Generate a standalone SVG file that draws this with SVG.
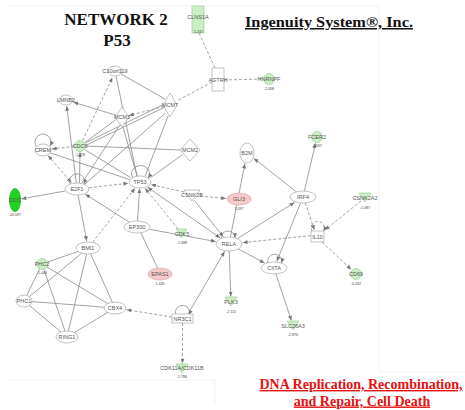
<svg xmlns="http://www.w3.org/2000/svg" width="465" height="410" viewBox="0 0 465 410">
<defs>
<style>
.e{stroke:#8a8a8a;stroke-width:0.8;fill:none}
.d{stroke-dasharray:3 2}
.n{fill:#fff;stroke:#a8a8a8;stroke-width:0.7}
.g{fill:#c9efc3;stroke:#a3cf9c;stroke-width:0.7}
.p{fill:#f5c9c9;stroke:#d9a3a3;stroke-width:0.7}
.l{font-family:"Liberation Sans",Arial,sans-serif;font-size:5.5px;fill:#555;text-anchor:middle;dominant-baseline:central}
.v{font-family:"Liberation Sans",Arial,sans-serif;font-size:3.6px;fill:#444;text-anchor:middle;dominant-baseline:central}
.t{font-family:"Liberation Serif","Times New Roman",serif;font-weight:bold;fill:#111}
.r{font-family:"Liberation Serif","Times New Roman",serif;font-weight:bold;fill:#e81010;font-size:14px;text-anchor:middle;text-decoration:underline}
</style>
<marker id="a" viewBox="0 0 6 5" refX="6" refY="2.5" markerWidth="5" markerHeight="4" markerUnits="userSpaceOnUse" orient="auto-start-reverse"><path d="M0,0L6,2.5L0,5z" fill="#777"/></marker>
</defs>
<rect width="465" height="410" fill="#fff"/>
<path d="M8,6H379V372H465M8,380H215V404" fill="none" stroke="#efefef" stroke-width="0.8"/>

<text class="t" x="116" y="25" font-size="17" text-anchor="middle">NETWORK 2</text>
<text class="t" x="117" y="45.5" font-size="17" text-anchor="middle">P53</text>
<text class="t" x="245" y="27" font-size="15" textLength="168" lengthAdjust="spacingAndGlyphs" text-decoration="underline">Ingenuity System®, Inc.</text>
<text class="r" x="361" y="389">DNA Replication, Recombination,</text>
<text class="r" x="362" y="405.5">and Repair, Cell Death</text>

<g id="edges">
<!-- dashed -->
<line class="e d" x1="199" y1="33" x2="215" y2="68"/>
<line class="e d" x1="224" y1="80" x2="263" y2="79"/>
<line class="e d" x1="212" y1="82" x2="177" y2="101"/>
<line class="e d" x1="164" y1="106.5" x2="129" y2="115.5" marker-end="url(#a)"/>
<line class="e d" x1="82.6" y1="140.6" x2="112.4" y2="77.6" marker-end="url(#a)"/>
<line class="e d" x1="74.5" y1="146.3" x2="51.9" y2="149" marker-end="url(#a)"/>
<line class="e d" x1="48" y1="155.5" x2="71.5" y2="182.7" marker-start="url(#a)" marker-end="url(#a)"/>
<line class="e d" x1="89" y1="187.7" x2="128.2" y2="183.3" marker-end="url(#a)"/>
<line class="e d" x1="92.4" y1="242.4" x2="135" y2="188.3" marker-end="url(#a)"/>
<line class="e d" x1="178" y1="229" x2="145.1" y2="188.2" marker-end="url(#a)"/>
<line class="e d" x1="184" y1="192" x2="151.1" y2="184.6" marker-end="url(#a)"/>
<line class="e d" x1="200" y1="196" x2="226" y2="198.5" marker-end="url(#a)"/>
<line class="e d" x1="311" y1="235.6" x2="242.8" y2="242.6" marker-end="url(#a)"/>
<line class="e d" x1="305.2" y1="202.9" x2="314.4" y2="230" marker-end="url(#a)"/>
<line class="e d" x1="361" y1="201" x2="325" y2="230" marker-end="url(#a)"/>
<line class="e d" x1="322" y1="242" x2="351.3" y2="269.5" marker-end="url(#a)"/>
<line class="e d" x1="172" y1="317" x2="126.6" y2="309.8" marker-end="url(#a)"/>
<line class="e d" x1="182.5" y1="323" x2="182.5" y2="363.5" marker-end="url(#a)"/>
<path class="e d" d="M312,231A6.5 6.5 0 1 1 323.5,231" marker-end="url(#a)"/>
<!-- solid -->
<line class="e" x1="121" y1="74" x2="165" y2="99"/>
<line class="e" x1="116" y1="76" x2="137" y2="176"/>
<line class="e" x1="116.2" y1="115.3" x2="73.4" y2="102.2" marker-end="url(#a)"/>
<line class="e" x1="76.3" y1="183" x2="66.7" y2="106" marker-end="url(#a)"/>
<line class="e" x1="85" y1="143" x2="163.5" y2="104.5"/>
<line class="e" x1="85.5" y1="145.5" x2="164" y2="107.5"/>
<line class="e" x1="85" y1="142.5" x2="116" y2="119.5"/>
<line class="e" x1="85.5" y1="146" x2="180" y2="150"/>
<line class="e" x1="50.5" y1="153" x2="129.5" y2="179.5"/>
<line class="e" x1="84.5" y1="149.5" x2="130.5" y2="177.5"/>
<line class="e" x1="79.5" y1="183" x2="80" y2="152.5" marker-end="url(#a)"/>
<line class="e" x1="82" y1="183" x2="119.5" y2="125.5"/>
<line class="e" x1="85" y1="184" x2="165.5" y2="113"/>
<line class="e" x1="123" y1="127" x2="137" y2="176"/>
<line class="e" x1="168" y1="116" x2="145" y2="176.5"/>
<line class="e" x1="182" y1="155" x2="150" y2="178"/>
<line class="e" x1="65.2" y1="191" x2="21.5" y2="198.9" marker-end="url(#a)"/>
<line class="e" x1="78.1" y1="195" x2="86.7" y2="241" marker-end="url(#a)"/>
<line class="e" x1="129.3" y1="222.2" x2="85.3" y2="194.2" marker-end="url(#a)"/>
<line class="e" x1="137.5" y1="221" x2="139.6" y2="188.5" marker-end="url(#a)"/>
<line class="e" x1="147.6" y1="187.3" x2="220.2" y2="237.9" marker-start="url(#a)" marker-end="url(#a)"/>
<line class="e" x1="194" y1="200" x2="223.3" y2="236.8" marker-end="url(#a)"/>
<line class="e" x1="149.5" y1="229.3" x2="215.7" y2="241.5" marker-end="url(#a)"/>
<line class="e" x1="141" y1="233" x2="157.5" y2="268"/>
<line class="e" x1="230.4" y1="237.1" x2="244.9" y2="163.6" marker-end="url(#a)"/>
<line class="e" x1="296.4" y1="191.8" x2="253.9" y2="158.4" marker-end="url(#a)"/>
<line class="e" x1="304.4" y1="191" x2="315.5" y2="143.3" marker-end="url(#a)"/>
<line class="e" x1="237.4" y1="238.7" x2="294.5" y2="202.4" marker-end="url(#a)"/>
<line class="e" x1="300.6" y1="202.9" x2="276.8" y2="261.2" marker-end="url(#a)"/>
<line class="e" x1="238.3" y1="248.9" x2="264.6" y2="263" marker-end="url(#a)"/>
<line class="e" x1="275.9" y1="274" x2="291.4" y2="320.5" marker-end="url(#a)"/>
<line class="e" x1="229.2" y1="251" x2="230.8" y2="296.5" marker-end="url(#a)"/>
<line class="e" x1="188" y1="314" x2="224.6" y2="251.5" marker-end="url(#a)"/>
<!-- polycomb clique -->
<line class="e" x1="88" y1="248" x2="42" y2="264"/>
<line class="e" x1="88" y1="248" x2="24" y2="301"/>
<line class="e" x1="88" y1="248" x2="115" y2="308"/>
<line class="e" x1="88" y1="248" x2="67" y2="337"/>
<line class="e" x1="42" y1="264" x2="24" y2="301"/>
<line class="e" x1="42" y1="264" x2="115" y2="308"/>
<line class="e" x1="42" y1="264" x2="67" y2="337"/>
<line class="e" x1="24" y1="301" x2="115" y2="308"/>
<line class="e" x1="24" y1="301" x2="67" y2="337"/>
<line class="e" x1="115" y1="308" x2="67" y2="337"/>
<!-- self loops -->
<path class="e" d="M133,178A9 8 0 1 1 148,178" marker-end="url(#a)"/>
<path class="e" d="M70,184A7.5 7.5 0 1 1 84,184" marker-end="url(#a)"/>
<path class="e" d="M221,238A7 7 0 1 1 235,238" marker-end="url(#a)"/>
<path class="e" d="M268,263A7 7 0 1 1 281.5,263" marker-end="url(#a)"/>
<path class="e" d="M36,146A8 8 0 1 1 50,146" marker-end="url(#a)"/>
<path class="e" d="M176,315A7 7 0 1 1 189,315" marker-end="url(#a)"/>
</g>

<g id="CLNS1A"><rect class="g" x="192" y="6" width="12" height="27"/><text class="l" x="198" y="16.5">CLNS1A</text><text class="v" x="198" y="31.5">-1.247</text></g>
<g id="AGTRH"><rect class="n" x="212" y="68" width="12" height="23"/><text class="l" x="218" y="80">AGTRH</text></g>
<g id="HNRNPF"><circle class="g" cx="269" cy="79" r="5.5"/><text class="l" x="269" y="79">HNRNPF</text><text class="v" x="269" y="89">-2.008</text></g>
<g id="C10orf119"><ellipse class="n" cx="115" cy="71" rx="7" ry="5"/><text class="l" x="115" y="71">C10orf119</text></g>
<g id="LMNB2"><ellipse class="n" cx="66" cy="100" rx="7" ry="5"/><text class="l" x="66" y="100">LMNB2</text></g>
<g id="MCM7"><polygon class="n" points="170,93 177,105 170,117 163,105"/><text class="l" x="170" y="105">MCM7</text></g>
<g id="MCM3"><polygon class="n" points="122,107 129,117 122,127 115,117"/><text class="l" x="122" y="117">MCM3</text></g>
<g id="CDC6"><circle class="g" cx="80" cy="146" r="5.5"/><text class="l" x="80" y="146">CDC6</text><text class="v" x="80" y="154.5">-1.478</text></g>
<g id="CREM"><ellipse class="n" cx="43" cy="150" rx="8" ry="6"/><text class="l" x="43" y="150">CREM</text></g>
<g id="MCM2"><polygon class="n" points="190,139 200,150 190,161 180,150"/><text class="l" x="190" y="150">MCM2</text></g>
<g id="E2F1"><ellipse class="n" cx="77" cy="189" rx="12" ry="6"/><text class="l" x="77" y="189">E2F1</text></g>
<g id="TP53"><ellipse class="n" cx="140" cy="182" rx="11" ry="6"/><text class="l" x="140" y="182">TP53</text></g>
<g id="DCC"><ellipse cx="15" cy="200" rx="5.5" ry="11.5" fill="#1fd41f" stroke="#19a819" stroke-width="0.7"/><text class="l" x="15" y="200">DCC</text><text class="v" x="15" y="215">-10.097</text></g>
<g id="CSNK2B"><polygon class="n" points="184,190 200,190 192,201"/><text class="l" x="192" y="195">CSNK2B</text></g>
<g id="GLI3"><ellipse class="p" cx="239" cy="199" rx="12" ry="6"/><text class="l" x="239" y="199">GLI3</text><text class="v" x="239" y="208.5">1.097</text></g>
<g id="EP300"><ellipse class="n" cx="137" cy="227" rx="13" ry="6"/><text class="l" x="137" y="227">EP300</text></g>
<g id="CDK5"><polygon class="g" points="176,229 187,229 181.5,238"/><text class="l" x="182" y="234">CDK5</text><text class="v" x="182" y="243">-1.088</text></g>
<g id="RELA"><ellipse class="n" cx="229" cy="244" rx="13" ry="7"/><text class="l" x="229" y="244">RELA</text></g>
<g id="B2M"><ellipse class="n" cx="247" cy="153" rx="7" ry="10"/><text class="l" x="247" y="153">B2M</text></g>
<g id="FCER2"><circle class="g" cx="317" cy="137" r="5.5"/><text class="l" x="317" y="137">FCER2</text><text class="v" x="317" y="146">-1.097</text></g>
<g id="IRF4"><ellipse class="n" cx="303" cy="197" rx="13" ry="6"/><text class="l" x="303" y="197">IRF4</text></g>
<g id="CSNK2A2"><polygon class="g" points="359,193 371,193 365,202"/><text class="l" x="365" y="198">CSNK2A2</text><text class="v" x="365" y="208">-1.087</text></g>
<g id="IL10"><rect class="n" x="311" y="231" width="13" height="11"/><text class="l" x="317.5" y="237">IL10</text></g>
<g id="CD69"><circle class="g" cx="356" cy="274" r="5.5"/><text class="l" x="356" y="274">CD69</text><text class="v" x="356" y="283.5">-4.262</text></g>
<g id="CIITA"><ellipse class="n" cx="274" cy="268" rx="13" ry="6"/><text class="l" x="274" y="268">CIITA</text></g>
<g id="SLC26A3"><polygon class="g" points="287,321 299,321 293,330"/><text class="l" x="293" y="326">SLC26A3</text><text class="v" x="293" y="335">-2.876</text></g>
<g id="PLK3"><polygon class="g" points="225,297 237,297 231,306"/><text class="l" x="231" y="302">PLK3</text><text class="v" x="231" y="312">-2.115</text></g>
<g id="EPAS1"><ellipse class="p" cx="160" cy="274" rx="12" ry="6"/><text class="l" x="160" y="274">EPAS1</text><text class="v" x="160" y="284">1.439</text></g>
<g id="BMI1"><ellipse class="n" cx="88" cy="248" rx="12" ry="6"/><text class="l" x="88" y="248">BMI1</text></g>
<g id="PHC2"><circle class="g" cx="42" cy="264" r="5.5"/><text class="l" x="42" y="264">PHC2</text><text class="v" x="42" y="273">-1.448</text></g>
<g id="PHC1"><ellipse class="n" cx="24" cy="301" rx="8" ry="6"/><text class="l" x="24" y="301">PHC1</text></g>
<g id="CBX4"><ellipse class="n" cx="115" cy="308" rx="11" ry="6"/><text class="l" x="115" y="308">CBX4</text></g>
<g id="RING1"><ellipse class="n" cx="67" cy="337" rx="11" ry="6"/><text class="l" x="67" y="337">RING1</text></g>
<g id="NR3C1"><rect class="n" x="172" y="314" width="21" height="9"/><text class="l" x="182.5" y="318.5">NR3C1</text></g>
<g id="CDK11A_CDK11B"><polygon class="g" points="176,364 188,364 182,373"/><text class="l" x="182" y="368">CDK11A/CDK11B</text><text class="v" x="182" y="377">-1.786</text></g>
</svg>
